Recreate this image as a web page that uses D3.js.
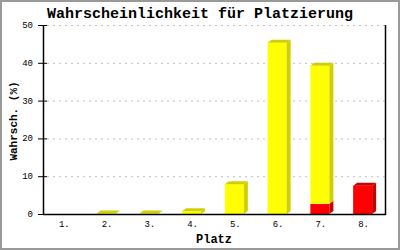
<!DOCTYPE html>
<html>
<head>
<meta charset="utf-8">
<script src="https://cdn.jsdelivr.net/npm/d3@7"></script>
<style>
  body { margin: 0; background: #fff; }
  text { font-family: "Liberation Mono", "DejaVu Sans Mono", monospace; }
</style>
</head>
<body>
<svg id="chart" width="400" height="250"></svg>
<script>
const categories = ['1.', '2.', '3.', '4.', '5.', '6.', '7.', '8.'];
const redValues = [0, 0, 0, 0, 0, 0, 2.7, 7.5];
const yellowValues = [0, 0.1, 0.1, 0.7, 7.9, 45.3, 36.5, 0];
const yTicks = [0, 10, 20, 30, 40, 50];

const width = 400;
const height = 250;
const margin = {left: 43, right: 15, top: 25, bottom: 36};
const barWidth = 19;
const depthX = 4;  // 3d offset
const depthY = 3;

const seriesColors = [
  {front: '#ff0000', dark: '#cc0000'},
  {front: '#ffff00', dark: '#d0d000'}
];


function stackRecords() {
  return categories.map((c, i) => {
    const r = redValues[i];
    const y = yellowValues[i];
    return [
      {cat: c, y0: 0, y1: r, color: seriesColors[0]},
      {cat: c, y0: r, y1: r + y, color: seriesColors[1]}
    ];
  });
}


function drawGrid(selection, x, y) {
  selection.selectAll('.grid')
    .data(yTicks.filter(d => d > 0))
    .enter()
    .append('line')
      .attr('class', 'grid')
      .attr('x1', x.range()[0] + 4)
      .attr('x2', x.range()[1])
      .attr('y1', d => y(d) + 0.5)
      .attr('y2', d => y(d) + 0.5)
      .attr('stroke', '#c0c0c0')
      .attr('stroke-dasharray', '2,4');
}


function drawBars(selection, x, y, records) {
  const bx = c => x(c) + (x.bandwidth() - barWidth) / 2 - 1;
  const groups = selection.selectAll('.bar')
    .data(records)
    .enter()
    .append('g')
      .attr('class', 'bar');
  const segs = groups.selectAll('.seg')
    .data(d => d.filter(s => s.y1 > s.y0))
    .enter()
    .append('g')
      .attr('class', 'seg');
  segs.append('rect')
      .attr('x', d => bx(d.cat))
      .attr('y', d => y(d.y1))
      .attr('width', barWidth)
      .attr('height', d => y(d.y0) - y(d.y1))
      .attr('fill', d => d.color.front);
  segs.append('path')
      .attr('d', d => {
        const x1 = bx(d.cat) + barWidth;
        return `M${x1},${y(d.y1)}L${x1 + depthX},${y(d.y1) - depthY}`
          + `L${x1 + depthX},${y(d.y0) - depthY}L${x1},${y(d.y0)}Z`;
      })
      .attr('fill', d => d.color.dark);
  // top face only on the topmost segment
  groups.each(function (d) {
    const top = d.filter(s => s.y1 > s.y0).pop();
    if (!top) return;
    const x0 = bx(top.cat);
    const yt = y(top.y1);
    d3.select(this).append('path')
        .attr('d', `M${x0},${yt}L${x0 + depthX},${yt - depthY}`
          + `L${x0 + barWidth + depthX},${yt - depthY}L${x0 + barWidth},${yt}Z`)
        .attr('fill', top.color.dark);
  });
}


function drawAxes(selection, x, y) {
  const [left, right] = x.range();
  const [bottom, top] = y.range();
  const yAxis = selection.append('g')
      .attr('class', 'y-axis');
  yAxis.selectAll('.tick')
    .data(yTicks)
    .enter()
    .append('line')
      .attr('x1', left - 5)
      .attr('x2', left + 4)
      .attr('y1', d => y(d) + 0.5)
      .attr('y2', d => y(d) + 0.5)
      .attr('stroke', '#000');
  yAxis.selectAll('.tick-label')
    .data(yTicks)
    .enter()
    .append('text')
      .attr('x', left - 10)
      .attr('y', d => y(d) + 3)
      .attr('text-anchor', 'end')
      .attr('font-size', 9)
      .text(d => d);
  selection.append('line')
      .attr('x1', left + 0.5).attr('x2', left + 0.5)
      .attr('y1', top).attr('y2', bottom + 1)
      .attr('stroke', '#000').attr('stroke-width', 1.5);
  selection.append('line')
      .attr('x1', right + 0.5).attr('x2', right + 0.5)
      .attr('y1', top).attr('y2', bottom + 1)
      .attr('stroke', '#000').attr('stroke-width', 1.5);
  selection.append('line')
      .attr('x1', left).attr('x2', right + 1)
      .attr('y1', bottom + 0.5).attr('y2', bottom + 0.5)
      .attr('stroke', '#000').attr('stroke-width', 1.5);
  selection.append('g')
      .attr('class', 'x-axis')
    .selectAll('text')
    .data(categories)
    .enter()
    .append('text')
      .attr('x', d => x(d) + x.bandwidth() / 2)
      .attr('y', bottom + 13)
      .attr('text-anchor', 'middle')
      .attr('font-size', 9)
      .text(d => d);
}


function drawTitles(selection, x) {
  const [left, right] = x.range();
  selection.append('text')
      .attr('x', width / 2)
      .attr('y', 18)
      .attr('text-anchor', 'middle')
      .attr('font-size', 15)
      .attr('font-weight', 'bold')
      .text('Wahrscheinlichkeit für Platzierung');
  selection.append('text')
      .attr('x', (left + right) / 2)
      .attr('y', 243)
      .attr('text-anchor', 'middle')
      .attr('font-size', 12)
      .attr('font-weight', 'bold')
      .text('Platz');
  selection.append('text')
      .attr('transform', 'translate(17,121) rotate(-90)')
      .attr('text-anchor', 'middle')
      .attr('font-size', 11)
      .attr('font-weight', 'bold')
      .text('Wahrsch. (%)');
}


const svg = d3.select('#chart');

svg.append('rect')
    .attr('x', 1).attr('y', 1)
    .attr('width', width - 2).attr('height', height - 2)
    .attr('fill', '#fff')
    .attr('stroke', '#999')
    .attr('stroke-width', 2);

const x = d3.scaleBand()
    .domain(categories)
    .range([margin.left, width - margin.right]);
const y = d3.scaleLinear()
    .domain([0, 50])
    .range([height - margin.bottom, margin.top]);

svg.call(drawGrid, x, y);
svg.call(drawBars, x, y, stackRecords());
svg.call(drawAxes, x, y);
svg.call(drawTitles, x);
</script>
</body>
</html>
